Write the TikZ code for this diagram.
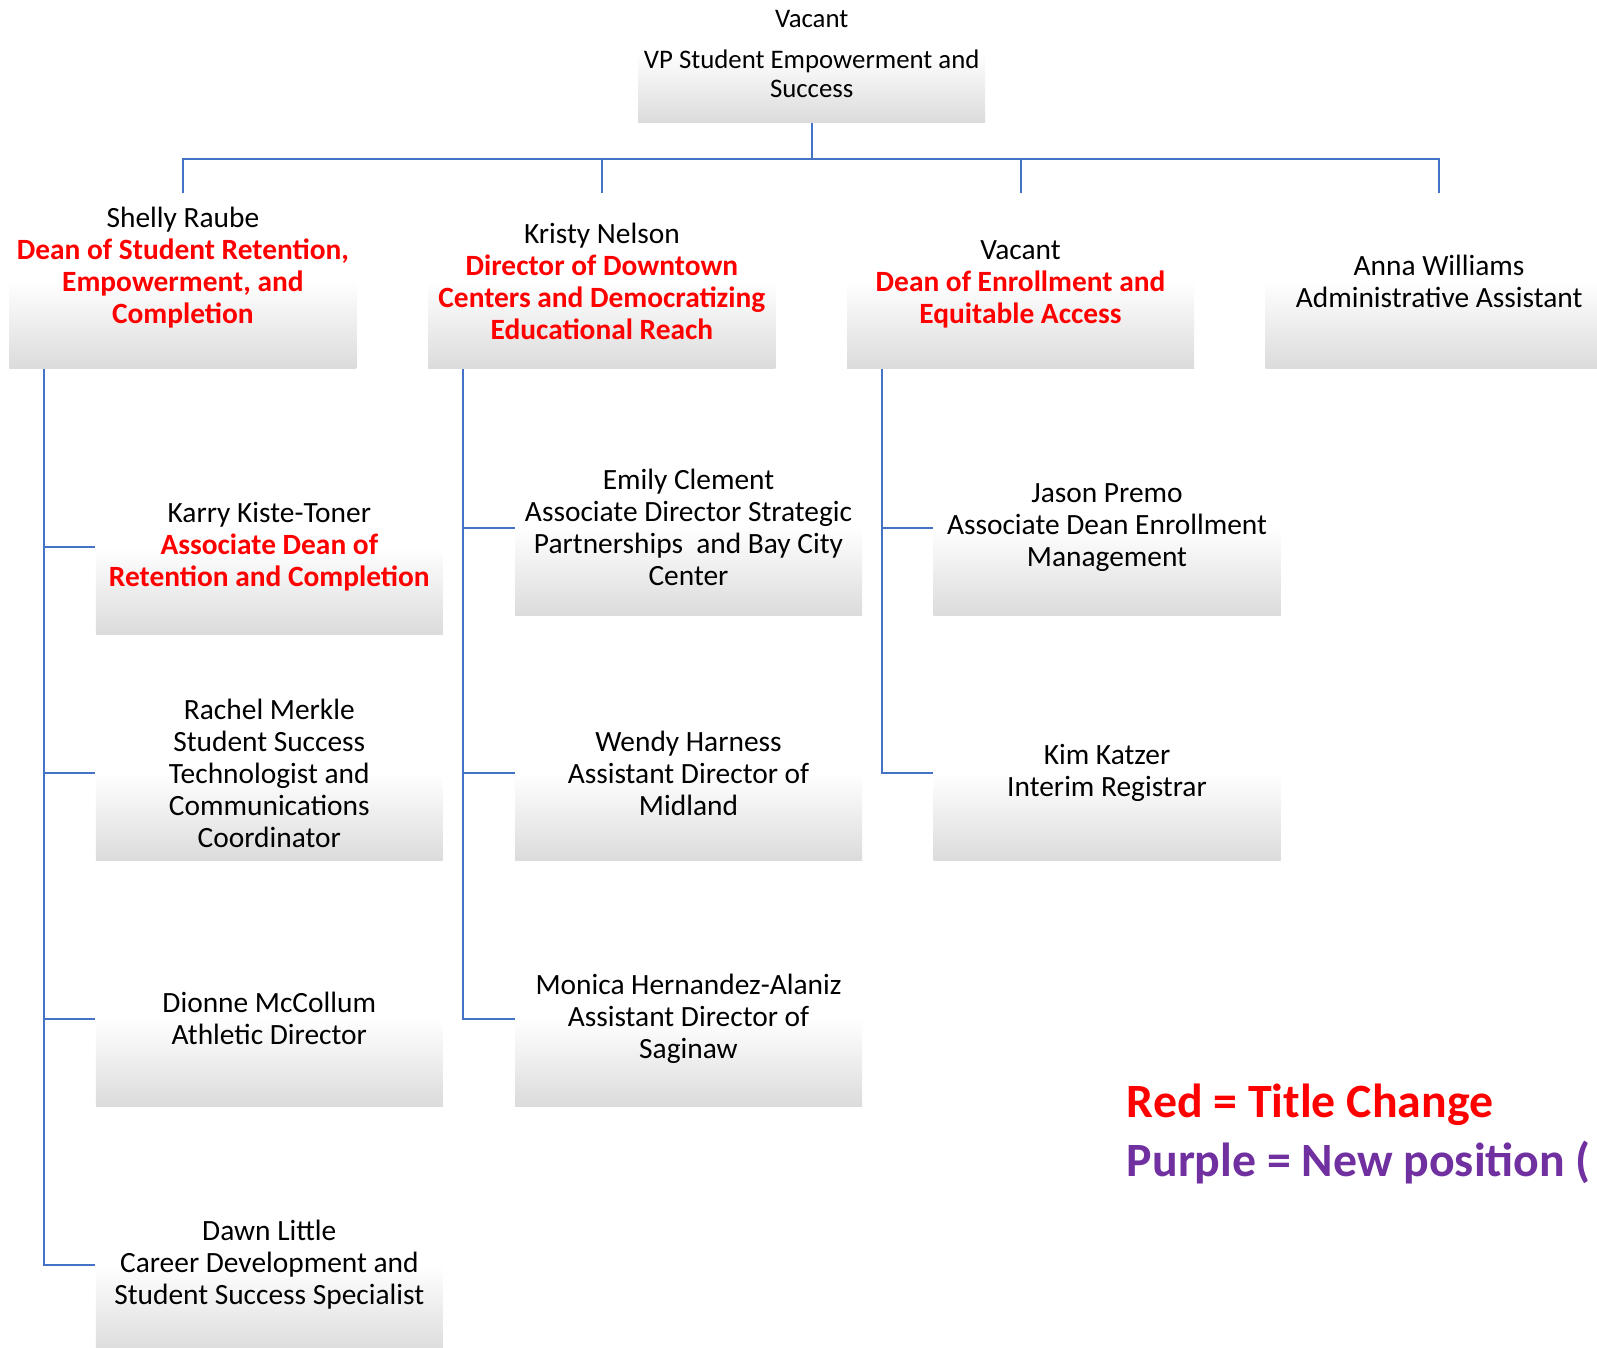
\documentclass[tikz,border=0pt]{standalone}
\usepackage{fontspec}
\setmainfont{Carlito}
\usetikzlibrary{calc}
\definecolor{connblue}{HTML}{4472C4}
\definecolor{titlered}{HTML}{FF0000}
\definecolor{newpurple}{HTML}{7030A0}
\newcommand\rt[1]{{\color{titlered}\bfseries #1}}
\begin{document}
\begin{tikzpicture}[x=0.5pt,y=-0.5pt,
  box/.style={rectangle, inner sep=0pt, minimum width=173.5pt, minimum height=87.6pt,
    top color=white, bottom color=black!14, middle color=white,
    align=center, font=\fontsize{14.7}{16}\selectfont, text=black},
  boxtext/.style={align=center, inner sep=0pt, font=\fontsize{14.7}{16}\selectfont, text=black},
  lbl/.style={align=center, inner sep=0pt, font=\fontsize{13.4}{14.6}\selectfont, text=black},
  conn/.style={draw=connblue, line width=1pt},
  legend/.style={anchor=west, inner sep=0pt, font=\fontsize{23.9}{29}\selectfont\bfseries}]
\useasboundingbox (0,0) rectangle (1597,1348);
\clip (0,0) rectangle (1597,1348);
\fill[white] (0,0) rectangle (1597,1348);

% top
\node[box, minimum height=70pt] (b0) at (811.7,52.2) {};
\node[lbl] (t0a) at (811.7,18.6) {Vacant};
\node[lbl] (t0b) at (811.7,74) {VP Student Empowerment and\\Success};

% level 1
\node[box] (b1) at (182.9,281.1) {Shelly Raube\\\rt{Dean of Student Retention,}\\\rt{Empowerment, and}\\\rt{Completion}\\\mbox{}};
\node[box] (b2) at (601.9,281.1) {Kristy Nelson\\\rt{Director of Downtown}\\\rt{Centers and Democratizing}\\\rt{Educational Reach}};
\node[box] (b3) at (1020.5,281.1) {};
\node[boxtext] (t3) at (1020.5,284) {Vacant\\\rt{Dean of Enrollment and}\\\rt{Equitable Access}};
\node[box] (b4) at (1439.1,281.1) {Anna Williams\\Administrative Assistant};

% column 1
\node[box] (c11) at (269.3,546.9) {Karry Kiste-Toner\\\rt{Associate Dean of}\\\rt{Retention and Completion}};
\node[box] (c12) at (269.3,773) {Rachel Merkle\\Student Success\\Technologist and\\Communications\\Coordinator};
\node[box] (c13) at (269.3,1018.5) {Dionne McCollum\\Athletic Director};
\node[box] (c14) at (269.3,1265) {Dawn Little\\Career Development and\\Student Success Specialist};

% column 2
\node[box] (c21) at (688.5,527.6) {Emily Clement\\Associate Director Strategic\\Partnerships~ and Bay City\\Center};
\node[box] (c22) at (688.5,773) {Wendy Harness\\Assistant Director of\\Midland};
\node[box] (c23) at (688.5,1018.5) {Monica Hernandez-Alaniz\\Assistant Director of\\Saginaw};

% column 3
\node[box] (c31) at (1107,527.6) {Jason Premo\\Associate Dean Enrollment\\Management};
\node[box] (c32) at (1107,773) {Kim Katzer\\Interim Registrar};

% connectors
\coordinate (hub) at (811.7,158.9);
\draw[conn] (b0.south) -- (hub);
\foreach \n in {b1,b2,b3,b4} \draw[conn] (\n.north) |- (hub);

\coordinate (d1) at ($(b1.south west)+(35,0)$);
\coordinate (d2) at ($(b2.south west)+(35,0)$);
\coordinate (d3) at ($(b3.south west)+(35,0)$);
\foreach \n in {c11,c12,c13,c14} \draw[conn] (d1) |- (\n.west);
\foreach \n in {c21,c22,c23} \draw[conn] (d2) |- (\n.west);
\foreach \n in {c31,c32} \draw[conn] (d3) |- (\n.west);

% legend
\node[legend, text=titlered] (leg1) at (1126.5,1105) {Red = Title Change};
\node[legend, text=newpurple] (leg2) at (1126.5,1163) {Purple = New position (};
\end{tikzpicture}
\end{document}
